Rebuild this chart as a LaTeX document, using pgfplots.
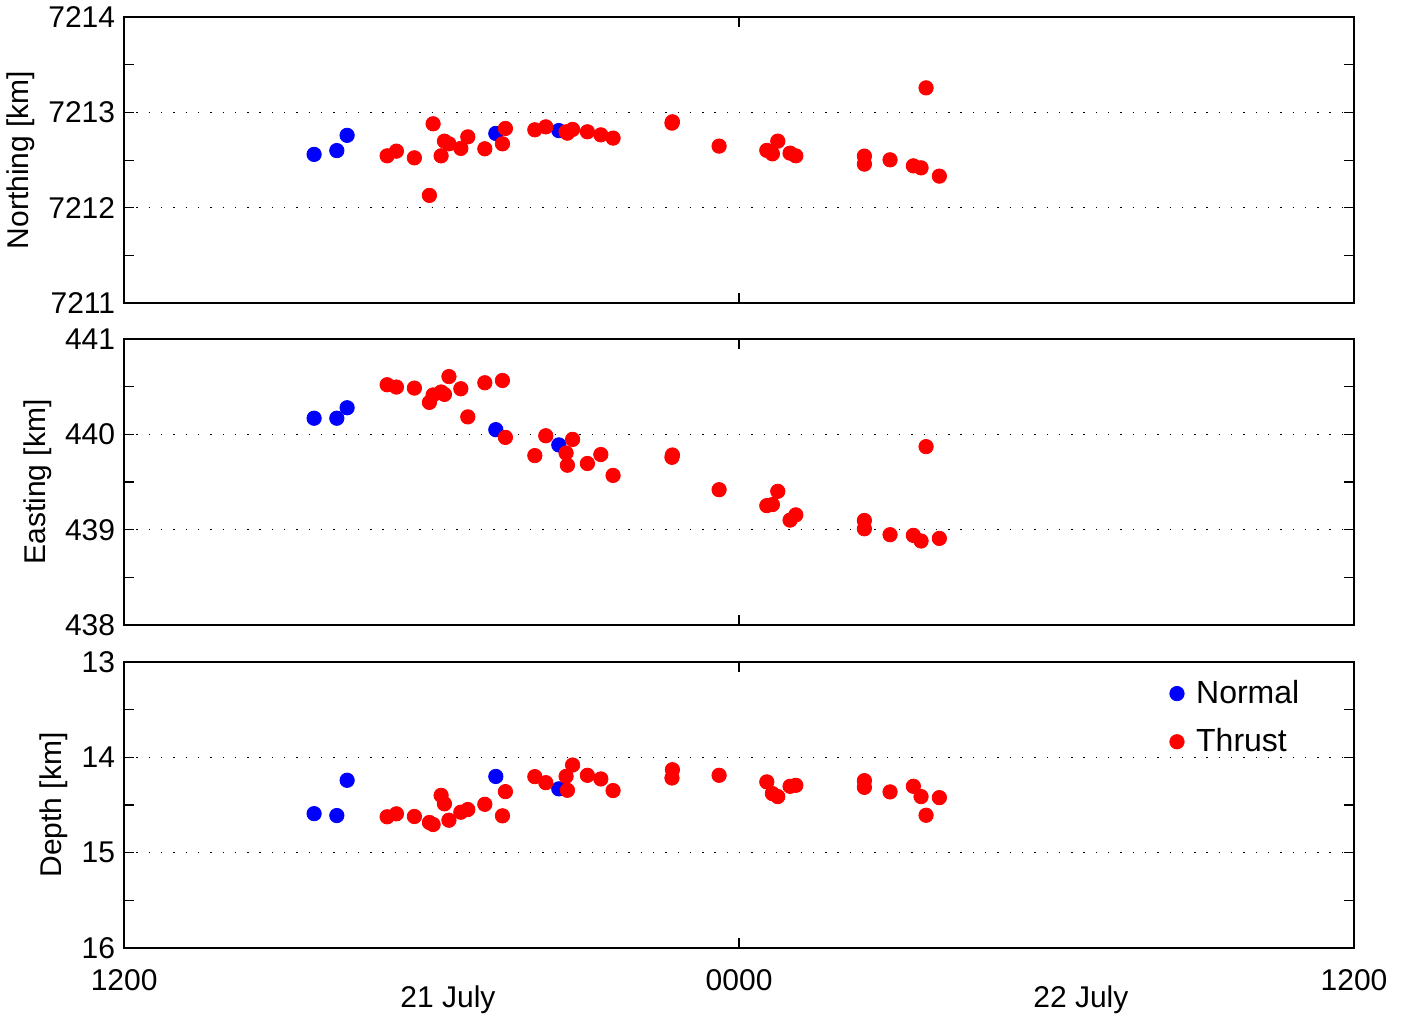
\documentclass[border=0pt]{standalone}
\usepackage{fontspec}
\setmainfont{Liberation Sans}
\usepackage{pgfplots}
\usepackage{pgfplotstable}
\pgfplotsset{compat=1.18}

% columns: x = hours after 1200 on 21 July, n = northing, e = easting, d = depth
\pgfplotstableread{
x      n        e       d
3.707  7212.56  440.17  14.59
4.150  7212.60  440.17  14.61
4.351  7212.76  440.28  14.24
7.253  7212.78  440.05  14.20
8.482  7212.81  439.89  14.33
}\normal

\pgfplotstableread{
x       n        e        d
5.132   7212.545 440.521  14.623
5.313   7212.594 440.497  14.592
5.664   7212.524 440.486  14.620
5.957   7212.130 440.336  14.683
6.029   7212.881 440.414  14.704
6.185   7212.545 440.445  14.398
6.250   7212.699 440.420  14.487
6.338   7212.671 440.607  14.659
6.570   7212.623 440.479  14.575
6.706   7212.744 440.184  14.547
7.038   7212.619 440.542  14.492
7.382   7212.671 440.566  14.613
7.440   7212.832 439.969  14.359
8.014   7212.818 439.778  14.202
8.228   7212.849 439.986  14.265
8.624   7212.797 439.805  14.199
8.650   7212.783 439.677  14.345
8.751   7212.822 439.948  14.080
9.040   7212.797 439.695  14.188
9.302   7212.765 439.789  14.226
9.541   7212.731 439.570  14.348
10.699  7212.902 439.784  14.129
10.690  7212.888 439.760  14.216
11.610  7212.647 439.420  14.188
12.541  7212.602 439.253  14.257
12.650  7212.566 439.264  14.380
12.755  7212.699 439.403  14.411
12.995  7212.573 439.101  14.303
13.107  7212.545 439.156  14.293
14.445  7212.542 439.097  14.244
14.445  7212.458 439.010  14.314
14.946  7212.503 438.948  14.362
15.401  7212.440 438.941  14.303
15.551  7212.419 438.882  14.411
15.908  7212.332 438.909  14.422
15.649  7213.258 439.872  14.607
}\thrust

\definecolor{nblue}{RGB}{0,0,255}
\definecolor{tred}{RGB}{255,0,0}

\pgfplotsset{
  panel/.style={
    scale only axis, width=615pt, height=143pt,
    xmin=0, xmax=24, xtick={0,12,24}, xticklabels={},
    minor x tick num=0, minor y tick num=1,
    ymajorgrids,
    major grid style={black, line width=0.7pt, dash pattern=on 0.7pt off 5.45pt},
    axis line style={black, line width=0.8pt},
    tick style={black, line width=0.6pt},
    major tick length=5pt, minor tick length=5pt,
    font=\fontsize{15}{18}\selectfont,
    /pgf/number format/assume math mode=true,
    /pgf/number format/1000 sep={},
    yticklabel style={xshift=-1pt},
    clip=false,
  },
  nmark/.style={only marks, mark=*, mark size=3.6pt, nblue, mark options={draw=nblue, fill=nblue}},
  tmark/.style={only marks, mark=*, mark size=3.6pt, tred, mark options={draw=tred, fill=tred}},
}

\begin{document}
\begin{tikzpicture}
\path (-62pt,8.5pt) rectangle (639.5pt,-503pt);

\begin{axis}[panel, at={(0,0)}, anchor=north west,
  ymin=7211, ymax=7214, ytick={7211,7212,7213,7214},
  ylabel={Northing [km]}]
  \addplot[nmark] table[x=x, y=n] {\normal};
  \addplot[tmark] table[x=x, y=n] {\thrust};
\end{axis}

\begin{axis}[panel, at={(0,-161pt)}, anchor=north west,
  ymin=438, ymax=441, ytick={438,439,440,441},
  ylabel={Easting [km]}]
  \addplot[nmark] table[x=x, y=e] {\normal};
  \addplot[tmark] table[x=x, y=e] {\thrust};
\end{axis}

\begin{axis}[panel, at={(0,-322.5pt)}, anchor=north west,
  ymin=13, ymax=16, ytick={13,14,15,16}, y dir=reverse,
  ylabel={Depth [km]},
  xticklabels={1200,0000,1200},
  xticklabel style={yshift=-7pt},
  legend style={at={(0.845,0.965)}, anchor=north west, draw=none, fill=none,
    font=\fontsize{16}{19}\selectfont, row sep=7pt,
    /tikz/every odd column/.style={column sep=4pt}},
  legend cell align=left]
  \addplot[nmark] table[x=x, y=d] {\normal};
  \addlegendentry{Normal}
  \addplot[tmark] table[x=x, y=d] {\thrust};
  \addlegendentry{Thrust}
  \node at (axis cs:6.32,16) [yshift=-26pt] {21 July};
  \node at (axis cs:18.67,16) [yshift=-26pt] {22 July};
\end{axis}
\end{tikzpicture}
\end{document}
